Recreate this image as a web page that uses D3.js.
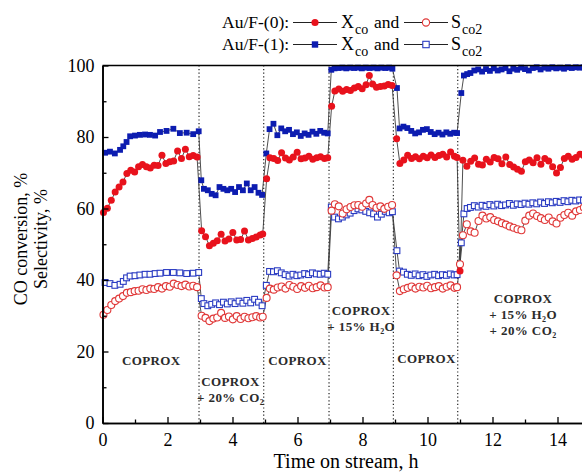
<!DOCTYPE html>
<meta charset="utf-8">
<script src="https://d3js.org/d3.v7.min.js"></script>
<style>
body { margin: 0; background-color: white; }
text { font-family: "Liberation Serif", "Times New Roman", serif; }
</style>
<div id="chart"></div>
<script>
// ---- data ----
// Au/F-(0): sampling times (h), CO conversion and CO2 selectivity (%)
var hours0 = [
  0.03,0.15,0.27,0.39,0.51,0.63,0.75,0.87,0.99,1.11,1.23,1.35,1.47,1.59,1.71,1.83,1.95,2.07,2.19,2.31,2.43,2.55,2.67,2.79,2.91,
  3.05,3.17,3.29,3.41,3.53,3.65,3.77,3.89,4.01,4.13,4.25,4.37,4.49,4.61,4.73,4.85,4.93,
  5.05,5.15,5.27,5.39,5.51,5.63,5.75,5.87,5.99,6.11,6.23,6.35,6.47,6.59,6.71,6.83,6.93,
  7.05,7.15,7.27,7.39,7.51,7.63,7.75,7.87,7.99,8.11,8.21,8.31,8.43,8.55,8.67,8.79,8.91,
  9.05,9.15,9.27,9.39,9.51,9.63,9.75,9.87,9.99,10.11,10.23,10.35,10.47,10.59,10.71,10.83,10.91,
  11.0,11.09,11.21,11.33,11.45,11.57,11.69,11.81,11.93,12.05,12.17,12.29,12.41,12.53,12.65,12.77,12.89,
  13.01,13.13,13.25,13.37,13.49,13.61,13.73,13.85,13.97,14.09,14.21,14.33,14.45,14.57,14.69,14.81
];
var conv0 = [
  58.9,60.1,62.3,64.6,66.0,67.4,69.8,70.7,70.2,71.7,72.3,71.7,71.3,72.1,72.0,74.9,72.6,73.1,73.3,76.1,74.0,76.6,74.5,74.8,74.4,
  53.8,52.1,49.6,50.3,51.0,52.8,50.9,51.5,53.3,51.2,51.3,53.7,51.2,51.6,52.0,52.6,52.9,
  68.3,74.2,74.0,73.4,75.6,74.1,73.6,74.4,75.7,73.9,74.1,74.6,73.8,74.2,74.5,74.0,74.2,
  88.6,92.9,93.4,92.8,93.3,93.0,93.7,94.1,93.5,94.6,97.2,94.8,93.9,94.1,94.3,94.7,94.4,
  79.5,72.6,73.6,74.9,74.0,74.5,73.9,74.6,74.2,75.0,74.3,74.8,75.2,74.4,75.8,74.6,74.3,
  42.5,73.5,71.8,73.2,74.1,72.4,72.2,73.8,73.0,74.3,73.9,72.5,74.4,72.3,71.6,71.0,70.4,
  73.1,73.6,72.8,74.2,72.4,74.0,73.3,71.7,69.9,71.5,74.0,74.6,73.8,74.3,75.2,74.8
];
var sel0 = [
  30.3,31.6,33.0,34.1,34.8,35.5,36.4,36.6,36.9,37.0,37.4,37.2,37.6,37.5,38.0,37.6,38.3,38.1,39.0,38.6,38.3,38.7,38.2,38.4,38.0,
  30.0,29.4,28.5,29.2,29.5,30.8,29.4,29.8,29.0,29.9,29.1,29.7,29.3,29.6,29.9,29.5,29.7,
  35.0,37.6,37.3,37.9,38.2,37.6,38.6,38.1,37.5,38.3,37.8,38.4,37.7,38.0,38.5,37.9,38.0,
  59.4,61.2,60.6,58.6,59.8,60.4,60.9,61.0,60.5,61.4,62.4,61.0,60.2,60.6,59.9,60.5,61.0,
  41.3,36.9,37.4,37.8,38.2,37.6,38.1,37.9,38.4,37.7,38.0,38.3,37.6,38.1,38.5,37.8,38.0,
  44.4,52.5,55.6,53.6,53.2,56.5,58.0,57.2,57.6,56.8,56.4,55.9,55.5,55.0,54.6,54.2,53.9,
  56.6,58.0,58.6,57.9,57.3,56.8,57.5,56.4,55.8,57.4,58.2,58.8,58.0,59.2,59.6,60.3
];

// Au/F-(1)
var hours1 = [
  0.08,0.23,0.38,0.54,0.64,0.74,0.85,1.00,1.15,1.31,1.46,1.62,1.77,1.97,2.18,2.38,2.59,2.79,2.96,
  3.04,3.12,3.24,3.36,3.48,3.60,3.72,3.84,3.96,4.08,4.20,4.32,4.44,4.56,4.68,4.80,4.91,
  5.04,5.14,5.26,5.38,5.50,5.62,5.74,5.86,5.98,6.10,6.22,6.34,6.46,6.58,6.70,6.82,6.93,
  7.04,7.14,7.26,7.38,7.50,7.62,7.74,7.86,7.98,8.10,8.22,8.34,8.46,8.58,8.70,8.82,8.92,
  9.06,9.14,9.26,9.38,9.50,9.62,9.74,9.86,9.98,10.10,10.22,10.34,10.46,10.58,10.70,10.82,10.91,
  11.04,11.12,11.22,11.32,11.44,11.56,11.68,11.80,11.92,12.04,12.16,12.28,12.40,12.52,12.64,12.76,12.88,
  13.00,13.12,13.24,13.36,13.48,13.60,13.72,13.84,13.96,14.08,14.20,14.32,14.44,14.56,14.68,14.80
];
var conv1 = [
  75.6,75.9,75.4,76.4,77.4,78.6,80.2,80.4,80.6,80.7,80.6,80.4,81.4,81.7,82.3,81.1,81.2,80.8,81.6,
  67.9,65.5,65.1,64.1,63.7,66.0,65.5,65.1,65.5,64.6,66.0,65.1,67.0,65.1,66.0,64.4,63.8,
  75.4,82.2,83.7,80.5,82.4,81.6,82.0,80.8,81.3,80.3,81.0,80.6,81.5,80.9,81.7,81.2,81.0,
  98.8,99.2,99.3,99.4,99.2,99.4,99.3,99.4,99.2,99.4,99.3,99.4,99.2,99.4,99.3,99.4,99.1,
  93.7,82.4,82.9,82.5,81.7,81.0,81.3,82.0,82.2,81.4,80.8,81.2,80.7,81.3,80.9,81.2,81.1,
  92.3,97.2,97.6,97.9,98.6,98.9,98.3,99.0,98.5,99.2,98.6,98.9,99.3,98.4,99.1,98.8,99.4,
  99.0,98.6,99.3,99.5,98.9,99.4,99.1,99.5,99.2,99.4,99.1,99.5,99.3,99.5,99.4,99.5
];
var sel1 = [
  39.3,39.0,38.5,38.8,39.6,40.6,41.1,41.2,41.4,41.6,41.6,41.8,41.9,42.1,42.1,42.0,41.8,41.9,42.1,
  34.8,33.4,32.8,33.2,33.6,33.1,33.8,33.3,33.9,33.4,34.1,33.5,34.3,33.6,34.6,33.8,32.8,
  38.5,42.4,42.3,42.6,42.0,41.5,41.1,41.6,41.2,41.4,41.8,41.5,42.0,41.7,41.6,41.9,41.6,
  60.4,57.6,57.1,57.6,58.2,58.7,59.4,59.9,59.6,59.2,58.8,58.5,57.6,58.4,59.2,58.8,59.1,
  48.2,42.5,42.2,41.6,41.3,41.7,41.2,41.5,41.0,41.4,41.6,41.2,41.5,41.3,41.7,41.4,41.5,
  50.4,58.5,60.0,60.3,60.8,60.4,60.9,60.6,61.1,60.7,61.2,60.8,61.0,61.4,60.9,61.3,61.1,
  61.5,61.2,61.6,61.3,61.8,61.4,61.9,61.6,62.0,61.7,62.2,61.9,62.3,62.1,62.4,62.3
];

// feed switches (h)
var switchTimes = [2.97, 4.96, 6.97, 8.95, 10.93];
var xTicks = [0, 2, 4, 6, 8, 10, 12, 14];
var xMinor = [1, 3, 5, 7, 9, 11, 13];
var yTicks = [0, 20, 40, 60, 80, 100];
var yMinor = [10, 30, 50, 70, 90];
// stage captions, each line: [text, subscript, rest]
var stages = [
  [["COPROX"]],
  [["COPROX"], ["+ 20% CO", "2"]],
  [["COPROX"]],
  [["COPROX"], ["+ 15% H", "2", "O"]],
  [["COPROX"]],
  [["COPROX"], ["+ 15% H", "2", "O"], ["+ 20% CO", "2"]]
];

// ---- drawing ----
var width = 582, height = 472;
var x = d3.scaleLinear().domain([0, 15]).range([102.5, 590]);
var y = d3.scaleLinear().domain([0, 100]).range([423, 65.5]);

var svg = d3.select("#chart").append("svg")
    .attr("width", width)
    .attr("height", height);

// switch lines
svg.append("g").selectAll("line")
  .data(switchTimes)
  .enter().append("line")
    .attr("x1", d => x(d)).attr("x2", d => x(d))
    .attr("y1", y(0)).attr("y2", y(100))
    .attr("stroke", "#222")
    .attr("stroke-width", 1.2)
    .attr("stroke-dasharray", "1.2,2.4");

// stage captions (centre hour, first baseline value)
var stagePos = [[1.5, 16.3], [3.94, 10.3], [6.0, 16.3], [7.96, 30.1], [9.97, 16.8], [12.94, 33.7]];
stages.forEach(function(lines, i) {
  lines.forEach(function(parts, j) {
    var t = svg.append("text")
      .attr("x", x(stagePos[i][0]))
      .attr("y", y(stagePos[i][1]) + j * 16)
      .attr("text-anchor", "middle")
      .attr("font-size", 13)
      .attr("font-weight", "bold")
      .attr("fill", "#2b2b2b")
      .attr("letter-spacing", "0.4px");
    t.append("tspan").text(parts[0]);
    if (parts[1]) t.append("tspan").attr("font-size", 8).attr("dy", 3).text(parts[1]);
    if (parts[2]) t.append("tspan").attr("dy", -3).text(parts[2]);
  });
});

// connecting lines
var series = [
  {t: hours1, v: sel1}, {t: hours0, v: sel0},
  {t: hours1, v: conv1}, {t: hours0, v: conv0}
];
var line = d3.line().x(d => x(d[0])).y(d => y(d[1]));
series.forEach(function(s) {
  svg.append("path")
    .attr("d", line(d3.zip(s.t, s.v)))
    .attr("fill", "none")
    .attr("stroke", "#3a3a3a")
    .attr("stroke-width", 0.9);
});

var red = "#e8121c", blue = "#0c1cb0";

function squares(data, filled) {
  svg.append("g").selectAll("rect")
    .data(data)
    .enter().append("rect")
      .attr("x", d => x(d[0]) - 2.9)
      .attr("y", d => y(d[1]) - 2.9)
      .attr("width", 5.8).attr("height", 5.8)
      .attr("fill", filled ? blue : "white")
      .attr("stroke", filled ? "none" : "#2a3bc2")
      .attr("stroke-width", 1.1);
}
function circles(data, filled) {
  svg.append("g").selectAll("circle")
    .data(data)
    .enter().append("circle")
      .attr("cx", d => x(d[0]))
      .attr("cy", d => y(d[1]))
      .attr("r", 3.5)
      .attr("fill", filled ? red : "white")
      .attr("stroke", filled ? "none" : "#e03838")
      .attr("stroke-width", 1.1);
}
squares(d3.zip(hours1, sel1), false);
circles(d3.zip(hours0, sel0), false);
squares(d3.zip(hours1, conv1), true);
circles(d3.zip(hours0, conv0), true);

// axes
function styleAxis(g) {
  g.selectAll("text").attr("font-family", "Liberation Serif, Times New Roman, serif")
    .attr("font-size", 18).attr("fill", "#000");
  g.selectAll("line").attr("stroke", "#000").attr("stroke-width", 1.3);
  g.select(".domain").attr("stroke", "#000").attr("stroke-width", 1.6);
}
svg.append("g")
  .attr("transform", "translate(0," + y(0) + ")")
  .call(d3.axisBottom(x).tickValues(xTicks).tickSize(-6).tickSizeOuter(0).tickPadding(10))
  .call(styleAxis);
svg.append("g")
  .attr("transform", "translate(0," + y(0) + ")")
  .call(d3.axisBottom(x).tickValues(xMinor).tickSize(-3.5).tickSizeOuter(0).tickFormat(""))
  .call(styleAxis);
svg.append("g")
  .attr("transform", "translate(" + x(0) + ",0)")
  .call(d3.axisLeft(y).tickValues(yTicks).tickSize(-6).tickSizeOuter(0).tickPadding(8))
  .call(styleAxis);
svg.append("g")
  .attr("transform", "translate(" + x(0) + ",0)")
  .call(d3.axisLeft(y).tickValues(yMinor).tickSize(-4).tickSizeOuter(0).tickFormat(""))
  .call(styleAxis);
// top frame
svg.append("line")
  .attr("x1", x(0)).attr("x2", x(15))
  .attr("y1", y(100)).attr("y2", y(100))
  .attr("stroke", "#000").attr("stroke-width", 1.6);

// axis titles
svg.append("text")
  .attr("x", 346).attr("y", 468)
  .attr("text-anchor", "middle")
  .attr("font-size", 20)
  .text("Time on stream, h");
svg.append("text")
  .attr("transform", "translate(27,239) rotate(-90)")
  .attr("text-anchor", "middle")
  .attr("font-size", 18)
  .text("CO conversion, %");
svg.append("text")
  .attr("transform", "translate(47,239) rotate(-90)")
  .attr("text-anchor", "middle")
  .attr("font-size", 18)
  .text("Selectivity, %");

// legend
var legendRows = [
  {name: "Au/F-(0):", color: red, shape: "circle"},
  {name: "Au/F-(1):", color: blue, shape: "square"}
];
legendRows.forEach(function(r, i) {
  var base = 28 + i * 22, mid = base - 5.5;
  var g = svg.append("g");
  g.append("text").attr("x", 222).attr("y", base).attr("font-size", 17.5).text(r.name);
  [[293, 337, true], [404, 448, false]].forEach(function(seg) {
    g.append("line").attr("x1", seg[0]).attr("x2", seg[1]).attr("y1", mid).attr("y2", mid)
      .attr("stroke", "#222").attr("stroke-width", 1);
    var c = (seg[0] + seg[1]) / 2;
    if (r.shape === "circle") {
      g.append("circle").attr("cx", c).attr("cy", mid).attr("r", 3.6)
        .attr("fill", seg[2] ? red : "white")
        .attr("stroke", seg[2] ? "none" : "#e03838").attr("stroke-width", 1.1);
    } else {
      g.append("rect").attr("x", c - 3.2).attr("y", mid - 3.2).attr("width", 6.4).attr("height", 6.4)
        .attr("fill", seg[2] ? blue : "white")
        .attr("stroke", seg[2] ? "none" : "#2a3bc2").attr("stroke-width", 1.1);
    }
  });
  g.append("text").attr("x", 341).attr("y", base).attr("font-size", 18).text("X");
  g.append("text").attr("x", 355).attr("y", base + 6).attr("font-size", 14).text("co");
  g.append("text").attr("x", 374).attr("y", base).attr("font-size", 17.5).text("and");
  g.append("text").attr("x", 451).attr("y", base).attr("font-size", 18).text("S");
  g.append("text").attr("x", 462).attr("y", base + 6).attr("font-size", 14).text("co2");
});
</script>
